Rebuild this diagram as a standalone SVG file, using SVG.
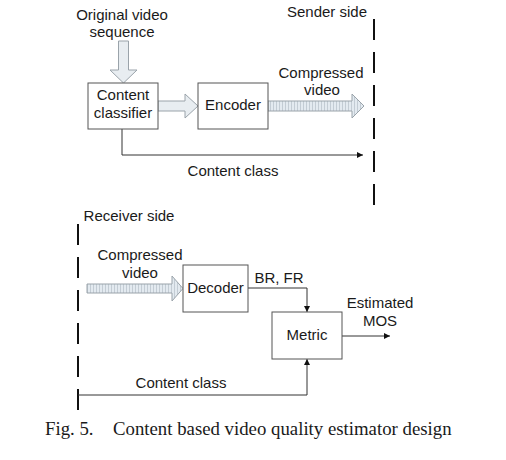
<svg xmlns="http://www.w3.org/2000/svg" width="506" height="460" viewBox="0 0 506 460">
<defs>
<style>
.t{font-family:"Liberation Sans",Arial,sans-serif;font-size:15px;fill:#1a1a1a}
.cap{font-family:"Liberation Serif","Times New Roman",serif;font-size:18.8px;fill:#1a1a1a}
.box{fill:#fff;stroke:#555;stroke-width:1}
.ln{fill:none;stroke:#333;stroke-width:1}
.dash{fill:none;stroke:#111;stroke-width:2;stroke-dasharray:21,12}
.hol{fill:#e8edf1;stroke:#9aa3aa;stroke-width:1}
.hat{fill:url(#hatch);stroke:#9aa3aa;stroke-width:1}
</style>
<pattern id="hatch" patternUnits="userSpaceOnUse" width="3" height="10">
<rect width="3" height="10" fill="#e3eaf0"/>
<line x1="0.5" y1="0" x2="0.5" y2="10" stroke="#c3ccd4" stroke-width="1"/>
</pattern>
<marker id="ah" viewBox="0 0 10 10" refX="10" refY="5" markerWidth="8" markerHeight="6" markerUnits="userSpaceOnUse" orient="auto">
<path d="M0,0 L10,5 L0,10 z" fill="#111"/>
</marker>
</defs>
<rect width="506" height="460" fill="#fff"/>

<g id="labels">
<text class="t" x="122" y="20" text-anchor="middle">Original video</text>
<text class="t" x="122" y="37" text-anchor="middle">sequence</text>
<text class="t" x="327" y="17" text-anchor="middle">Sender side</text>
<text class="t" x="321" y="78" text-anchor="middle">Compressed</text>
<text class="t" x="322" y="95" text-anchor="middle">video</text>
<text class="t" x="233" y="176" text-anchor="middle">Content class</text>
<text class="t" x="129" y="221" text-anchor="middle">Receiver side</text>
<text class="t" x="140" y="260" text-anchor="middle">Compressed</text>
<text class="t" x="140" y="278" text-anchor="middle">video</text>
<text class="t" x="279" y="283" text-anchor="middle">BR, FR</text>
<text class="t" x="380" y="308" text-anchor="middle">Estimated</text>
<text class="t" x="380" y="326" text-anchor="middle">MOS</text>
<text class="t" x="181" y="388" text-anchor="middle">Content class</text>
<text class="cap" x="45" y="435">Fig. 5.</text>
<text class="cap" x="113" y="435">Content based video quality estimator design</text>
</g>

<g id="connectors">
<line class="dash" x1="374" y1="19" x2="374" y2="210"/>
<line class="dash" x1="78" y1="224" x2="78" y2="412"/>
<polygon class="hol" points="118.5,41 128.5,41 128.5,70 137,70 123.5,83 110,70 118.5,70"/>
<polygon class="hol" points="158,101 185,101 185,94 198,106 185,118 185,111 158,111"/>
<polygon class="hat" points="268,101 352,101 352,94 364,106 352,118 352,111 268,111"/>
<polygon class="hat" points="87,284 172,284 172,276 183,288.5 172,301 172,293 87,293"/>
<polyline class="ln" points="122,129 122,155 363,155" marker-end="url(#ah)"/>
<polyline class="ln" points="248,288 307,288 307,312" marker-end="url(#ah)"/>
<line class="ln" x1="342" y1="336" x2="390" y2="336" marker-end="url(#ah)"/>
<polyline class="ln" points="78,395 307,395 307,359" marker-end="url(#ah)"/>
</g>

<g id="classifier">
<rect class="box" x="88" y="83" width="70" height="46"/>
<text class="t" x="123" y="100" text-anchor="middle">Content</text>
<text class="t" x="123" y="118" text-anchor="middle">classifier</text>
</g>
<g id="encoder">
<rect class="box" x="198" y="83" width="70" height="46"/>
<text class="t" x="233" y="110" text-anchor="middle">Encoder</text>
</g>
<g id="decoder">
<rect class="box" x="183" y="265" width="65" height="47"/>
<text class="t" x="215.5" y="293" text-anchor="middle">Decoder</text>
</g>
<g id="metric">
<rect class="box" x="272" y="312" width="70" height="47"/>
<text class="t" x="307" y="340" text-anchor="middle">Metric</text>
</g>
</svg>
